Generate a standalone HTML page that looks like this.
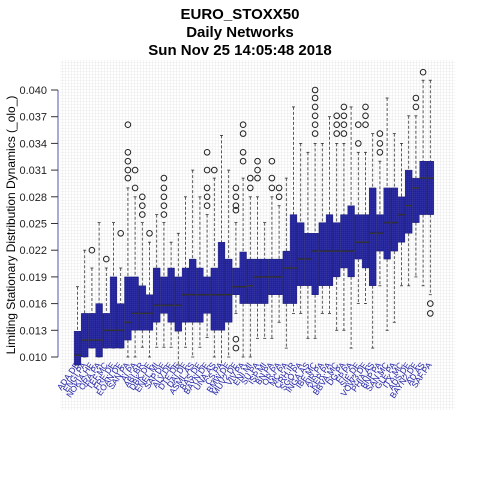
<!DOCTYPE html>
<html><head><meta charset="utf-8"><style>
html,body{margin:0;padding:0;background:#fff;}
svg{display:block;font-family:"Liberation Sans",sans-serif;}
</style></head><body>
<svg id="chart" width="480" height="480" viewBox="0 0 480 480">
<defs>
<pattern id="grid" width="3" height="3" patternUnits="userSpaceOnUse">
<path d="M3 0V3M0 3H3" stroke="#dcdcdc" stroke-width="0.6" fill="none"/>
</pattern>
<pattern id="dots" width="2" height="2" patternUnits="userSpaceOnUse">
<rect width="2" height="2" fill="#1e1e98"/>
<rect x="0.5" y="0.5" width="0.7" height="0.7" fill="#6a6ad0"/>
</pattern>
</defs>
<rect x="60" y="60" width="395" height="350" fill="url(#grid)"/>
<g font-weight="bold" font-size="15" text-anchor="middle">
<text x="240" y="19">EURO_STOXX50</text>
<text x="240" y="37">Daily Networks</text>
<text x="240" y="55">Sun Nov 25 14:05:48 2018</text>
</g>
<text x="15" y="225" font-size="12" text-anchor="middle" transform="rotate(-90 15 225)">Limiting Stationary Distribution Dynamics (_olo_)</text>
<g id="yaxis"></g>
<g id="boxes"></g>
<g id="xlabels"></g>
</svg>
<script>
const tickLabels = ["0.010","0.013","0.016","0.019","0.022","0.025","0.028","0.031","0.034","0.037","0.040"];
const tickValues = [10,13,16,19,22,25,28,31,34,37,40];
const categories = ["ADA.DE","ENGI.PA","NOKIA.HE","ORA.PA","TEF.MC","FRE.DE","EOAN.DE","SAN.PA","AI.PA","ABI.BR","DBK.DE","ENEL.MI","SAP.DE","ALV.DE","DTE.DE","DAI.DE","ASML.AS","BAS.DE","BAYN.DE","UNA.AS","CS.PA","BMW.DE","MUV2.DE","VIV.PA","ENI.MI","SU.PA","ISP.MI","BN.PA","OR.PA","MC.PA","CRH.IR","SGO.PA","INGA.AS","IBE.MC","AIR.PA","KER.PA","BBVA.MC","DG.PA","FP.PA","SIE.DE","VOW3.DE","PHIA.AS","BNP.PA","SAN.MC","GLE.PA","ITX.MC","ADS.DE","BAYN2.DE","AD.AS","SAF.PA"];
const q1 = [9.1,10.0,11.0,10.0,11.0,11.0,11.0,11.9,13.0,13.0,13.0,13.9,14.9,13.9,12.9,13.9,13.9,13.9,14.9,13.0,13.0,13.9,17.0,16.0,16.0,16.0,16.0,17.0,17.0,16.0,16.0,18.0,18.0,17.0,18.0,18.0,19.0,20.0,19.0,21.0,20.0,18.0,21.9,21.0,21.9,22.9,23.9,25.1,26.0,26.0];
const medians = [10.2,11.9,11.9,11.9,13.0,13.0,13.0,13.9,14.9,14.9,14.9,15.8,15.8,15.8,15.8,17.0,17.0,17.0,17.0,17.0,17.0,17.0,17.9,17.9,18.0,19.0,19.0,19.0,19.0,20.0,20.0,21.0,21.0,21.9,21.9,21.9,21.9,21.9,21.9,22.9,22.9,23.9,23.9,25.1,25.1,26.0,27.0,29.0,30.1,30.1];
const q3 = [12.9,14.9,14.9,16.0,14.9,19.0,16.0,19.0,19.0,18.0,17.0,20.0,19.0,20.0,19.0,20.0,21.0,20.0,19.0,20.0,22.9,21.0,20.0,21.8,21.0,21.0,21.0,21.0,21.0,21.9,26.0,25.1,23.9,23.9,25.1,26.0,25.1,26.0,27.0,26.0,26.0,29.0,26.0,29.0,29.0,28.0,31.0,30.1,32.0,32.0];
const whiskerLow = [9.1,10.0,11.0,10.0,11.0,11.0,11.0,10.0,10.0,11.1,10.0,11.1,11.1,11.1,9.1,11.1,10.0,11.1,12.2,10.0,9.1,10.0,14.9,10.0,10.0,12.1,12.1,12.1,13.9,11.0,14.9,14.9,12.1,12.1,14.9,14.9,13.0,13.0,11.0,16.0,16.0,11.0,18.0,13.0,13.9,18.0,18.0,19.0,18.0,17.0];
const whiskerHigh = [17.9,22.0,20.0,25.1,20.0,25.1,20.0,29.0,28.0,25.1,22.9,26.0,25.1,22.9,23.9,28.0,31.0,28.0,26.0,30.1,34.9,31.0,25.1,30.1,28.0,28.0,25.1,28.0,27.0,30.1,38.1,34.0,33.0,34.0,34.0,37.0,34.0,34.0,38.1,33.0,33.0,35.1,32.0,39.1,35.1,34.0,37.1,37.1,41.1,41.1];
const outliers = [[],[],[22.0],[],[21.0],[],[23.9],[36.1,33.0,32.0,31.0,30.1],[31.0,29.0],[28.0,27.0,26.0],[23.9],[],[30.1,29.0,28.0,27.0,26.0],[],[],[],[],[],[33.0,31.0,29.0,28.0,27.0],[31.0],[],[],[29.0,28.0,27.0,26.5,12.0,11.0],[36.1,35.1,33.0,32.0],[30.1,29.0],[32.0,31.0,30.1],[],[32.0,30.1,29.0],[29.0,28.0],[],[],[],[],[40.0,39.1,38.1,37.1,36.1,35.1],[],[],[37.1,36.1,35.1],[38.1,37.1,36.1,35.1],[],[36.1,34.0],[38.1,37.1,36.1],[],[35.1,34.0,33.0],[],[],[],[],[39.1,38.1],[42.0],[16.0,14.9]];

const NS = "http://www.w3.org/2000/svg";
const yPx = v => 357 - (v - 10) * 8.9;
const xPx = i => 77.5 + i * 7.2;
function mk(tag, attrs, parent){const e=document.createElementNS(NS,tag);for(const k in attrs)e.setAttribute(k,attrs[k]);parent.appendChild(e);return e;}

const yaxis = document.getElementById('yaxis');
const axLine = mk('line',{x1:58,x2:58,y1:yPx(10),y2:yPx(40),stroke:'#7070c0','stroke-width':1.2},yaxis);


tickValues.forEach((v,i)=>{
  const t = mk('line',{x1:51,x2:58,y1:yPx(v),y2:yPx(v),stroke:'#333','stroke-width':1},yaxis);
  
  
  const l = mk('text',{x:47,y:yPx(v)+4,'font-size':11,'text-anchor':'end',fill:'#222'},yaxis);
  l.textContent = tickLabels[i];
  
  
});

const boxes = document.getElementById('boxes');
const hw = 3.4;
categories.forEach((c,i)=>{
  const x = xPx(i);
  const g = mk('g',{},boxes);
  
  
  mk('line',{x1:x,x2:x,y1:yPx(whiskerHigh[i]),y2:yPx(q3[i]),stroke:'#333','stroke-width':0.8,'stroke-dasharray':'3,2'},g);
  mk('line',{x1:x,x2:x,y1:yPx(q1[i]),y2:yPx(whiskerLow[i]),stroke:'#333','stroke-width':0.8,'stroke-dasharray':'3,2'},g);
  mk('line',{x1:x-1.5,x2:x+1.5,y1:yPx(whiskerHigh[i]),y2:yPx(whiskerHigh[i]),stroke:'#333','stroke-width':0.8},g);
  mk('line',{x1:x-1.5,x2:x+1.5,y1:yPx(whiskerLow[i]),y2:yPx(whiskerLow[i]),stroke:'#333','stroke-width':0.8},g);
  const top = yPx(q3[i]), bot = yPx(q1[i]);
  mk('rect',{x:x-hw,y:top,width:hw*2,height:Math.max(bot-top,1),fill:'url(#dots)',stroke:'#12126a','stroke-width':0.4},g);
  mk('line',{x1:x-hw,x2:x+hw,y1:yPx(medians[i]),y2:yPx(medians[i]),stroke:'#333','stroke-width':1.5},g);
  outliers[i].forEach(v=>{
    const o = mk('circle',{cx:x,cy:yPx(v),r:2.8,fill:'none',stroke:'#222','stroke-width':1},g);
    
    
  });
});

const xl = document.getElementById('xlabels');
categories.forEach((c,i)=>{
  const x = xPx(i)+2, y = 365;
  const t = mk('text',{x:x,y:y,'font-size':8.5,'text-anchor':'end',fill:'#2222aa',transform:`rotate(-55 ${x} ${y})`},xl);
  t.textContent = c;
  
  
});
</script>
</body></html>
